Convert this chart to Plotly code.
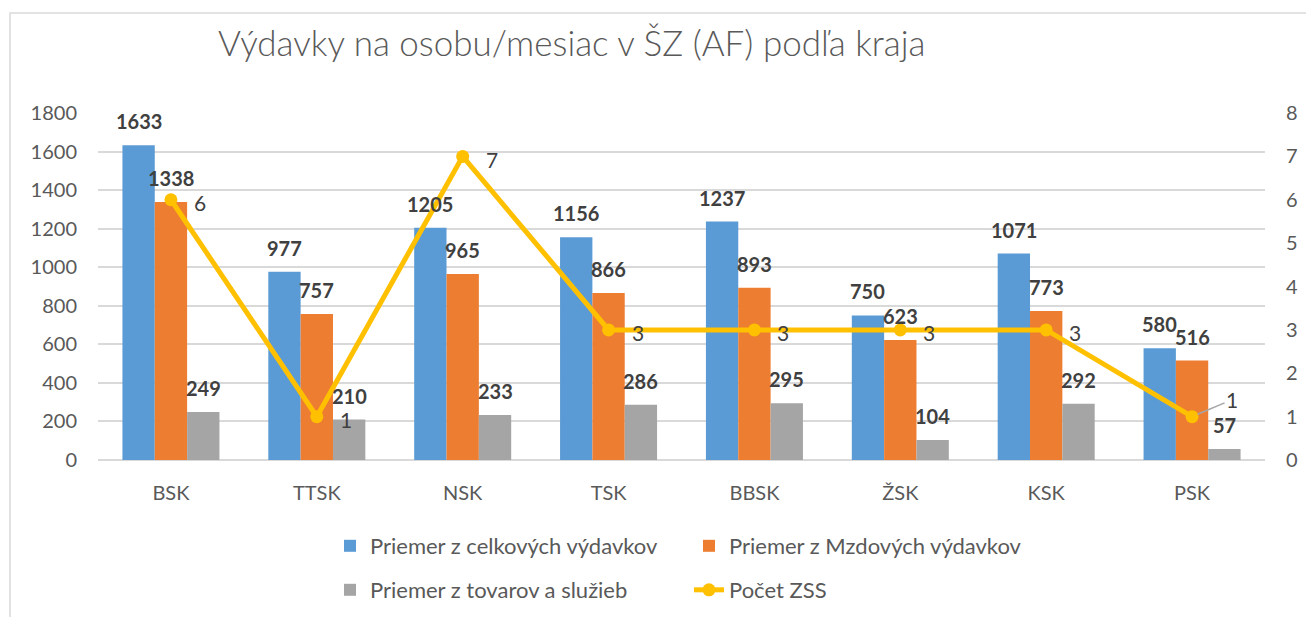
import plotly.graph_objects as go

categories = ["BSK", "TTSK", "NSK", "TSK", "BBSK", "ŽSK", "KSK", "PSK"]
celkove = [1633, 977, 1205, 1156, 1237, 750, 1071, 580]
mzdove = [1338, 757, 965, 866, 893, 623, 773, 516]
tovary = [249, 210, 233, 286, 295, 104, 292, 57]
pocet_zss = [6, 1, 7, 3, 3, 3, 3, 1]

series_names = ["Priemer z celkových výdavkov", "Priemer z Mzdových výdavkov",
                "Priemer z tovarov a služieb", "Počet ZSS"]
colors = ["#5B9BD5", "#ED7D31", "#A5A5A5", "#FFC000"]

W, H = 1306, 617
ML, MR, MT, MB = 98, 41, 113, 157
PW, PH = W - ML - MR, H - MT - MB
BARGAP = 0.335
FONT = "Lato"
TXT = "#595959"
LBL = "#404040"


def px_x(px):
    return (px - ML) / PW


def px_y(py):
    return (H - MB - py) / PH


fig = go.Figure()
bar_series = [celkove, mzdove, tovary]
for i, vals in enumerate(bar_series):
    fig.add_trace(go.Bar(
        x=categories, y=vals, name=series_names[i],
        marker=dict(color=colors[i], line=dict(width=0)),
        legend="legend" if i < 2 else "legend2",
    ))

fig.add_trace(go.Scatter(
    x=categories, y=pocet_zss, name=series_names[3], yaxis="y2",
    mode="lines+markers",
    line=dict(color=colors[3], width=5),
    marker=dict(color=colors[3], size=13),
    legend="legend2",
))

annotations = []
bw = (1 - BARGAP) / 3
for i, vals in enumerate(bar_series):
    off = (i - 1) * bw
    for j, v in enumerate(vals):
        annotations.append(dict(
            x=j + off, y=v, xref="x", yref="y", text=str(v),
            showarrow=False, yanchor="middle", yshift=24,
            font=dict(family=FONT, size=20, color=LBL, weight="bold"),
        ))

for j, v in enumerate(pocet_zss):
    if j == len(pocet_zss) - 1:
        annotations.append(dict(
            x=j, y=v, xref="x", yref="y2", text=str(v),
            showarrow=True, arrowhead=0, arrowwidth=1.5, arrowcolor="#A6A6A6",
            ax=40, ay=-17, standoff=6,
            font=dict(family=FONT, size=21, color=LBL),
        ))
    else:
        annotations.append(dict(
            x=j, y=v, xref="x", yref="y2", text=str(v),
            showarrow=False, xanchor="left", yanchor="middle",
            xshift=21, yshift=-3,
            font=dict(family=FONT, size=21, color=LBL),
        ))

legend_common = dict(
    orientation="h", xanchor="left", yanchor="middle",
    font=dict(family=FONT, size=22, color=TXT),
    entrywidthmode="pixels", entrywidth=314,
    bgcolor="rgba(0,0,0,0)", traceorder="normal",
    itemclick=False,
)

fig.update_layout(
    width=W, height=H,
    margin=dict(l=ML, r=MR, t=MT, b=MB, autoexpand=False),
    paper_bgcolor="white", plot_bgcolor="white",
    barmode="group", bargap=BARGAP, bargroupgap=0,
    title=dict(
        text="Výdavky na osobu/mesiac v ŠZ (AF) podľa kraja",
        x=218 / W, xanchor="left", xref="container",
        y=1 - 44 / H, yanchor="middle", yref="container",
        font=dict(family=FONT, size=35, color=TXT, weight=300),
    ),
    xaxis=dict(
        type="category", showgrid=False, showline=False, ticks="",
        tickfont=dict(family=FONT, size=20, color=TXT),
        ticklabelstandoff=19, automargin=False,
    ),
    yaxis=dict(
        range=[0, 1800], dtick=200, showgrid=True, gridcolor="#D9D9D9", gridwidth=1.5,
        zeroline=True, zerolinecolor="#D9D9D9", zerolinewidth=1.5,
        showline=False, ticks="",
        tickfont=dict(family=FONT, size=20, color=TXT),
        ticklabelstandoff=20, automargin=False,
    ),
    yaxis2=dict(
        range=[0, 8], dtick=1, overlaying="y", side="right", showgrid=False,
        zeroline=False, showline=False, ticks="",
        tickfont=dict(family=FONT, size=20, color=TXT),
        ticklabelstandoff=20, automargin=False,
    ),
    legend=dict(x=px_x(330), y=px_y(546), **legend_common),
    legend2=dict(x=px_x(330), y=px_y(590), **legend_common),
    annotations=annotations,
    shapes=[dict(
        type="path", xref="paper", yref="paper",
        path=f"M {px_x(10)},{px_y(H + 5)} L {px_x(10)},{px_y(13)} L {px_x(W + 5)},{px_y(13)}",
        line=dict(color="#D9D9D9", width=1.5),
    )],
    showlegend=True,
)

fig.write_html(
    "out.html",
    config={"displayModeBar": False},
    post_script="document.body.style.margin='0';document.body.style.overflow='hidden';",
)
